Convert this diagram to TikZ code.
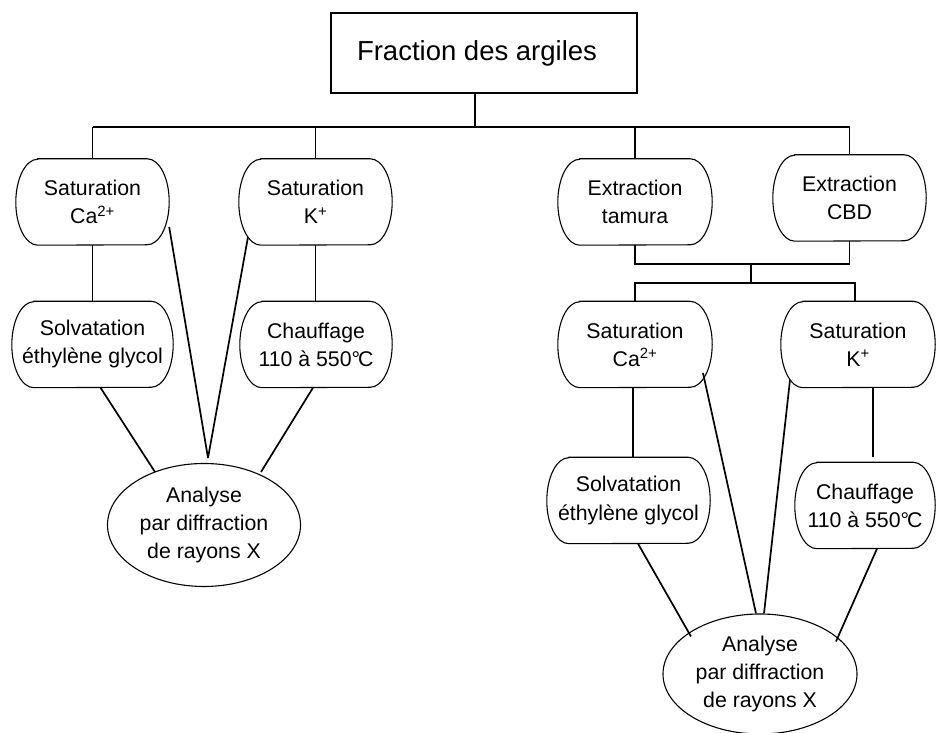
\documentclass[tikz,border=0pt]{standalone}
\usepackage{fontspec}
\setmainfont{Liberation Sans}
\usetikzlibrary{calc,shapes.geometric}
\tikzset{
  conn/.style={line width=1.7pt},
  boxline/.style={line width=1.1pt},
  txt/.style={font=\fontsize{21.3}{28}\selectfont, align=center, inner sep=0pt},
  pill/.style={txt, minimum height=86pt},
  anabox/.style={txt, ellipse, draw, line width=1.1pt},
}
\newcommand\degC{°\kern-0.1em C}
\begin{document}
\begin{tikzpicture}[x=1pt,y=1pt]
\path[use as bounding box, fill=white] (0,0) rectangle (938,733);
% title
\node[draw, line width=1.7pt, minimum width=306pt, minimum height=80pt, inner sep=0pt,
      font=\fontsize{27.5}{33}\selectfont] (title) at (484,680) {Fraction des argiles\kern14pt};
% left branch
\node[pill, minimum width=153pt] (satcaA) at (92.5,531) {Saturation\\Ca\textsuperscript{2+}};
\node[pill, minimum width=153pt] (satkA) at (315.5,531) {Saturation\\K\textsuperscript{+}};
\node[pill, minimum width=161pt] (solvA) at (92.5,388.5) {Solvatation\\éthylène glycol};
\node[pill, minimum width=152pt] (chaufA) at (316,388.5) {Chauffage\\110 à 550\degC};
\node[anabox, minimum width=193pt, minimum height=123pt] (anaA) at (204,208) {Analyse\\par diffraction\\de rayons X};
% right branch
\node[pill, minimum width=154pt] (tam) at (635,531) {Extraction\\tamura};
\node[pill, minimum width=153pt] (cbd) at (849.5,535) {Extraction\\CBD};
\node[pill, minimum width=154pt] (satcaB) at (635,388.5) {Saturation\\Ca\textsuperscript{2+}};
\node[pill, minimum width=154pt] (satkB) at (858,388.5) {Saturation\\K\textsuperscript{+}};
\node[pill, minimum width=163pt] (solvB) at (628.5,232.5) {Solvatation\\éthylène glycol};
\node[pill, minimum width=140pt] (chaufB) at (865,227.5) {Chauffage\\110 à 550\degC};
\node[anabox, minimum width=194pt, minimum height=120pt] (anaB) at (760,59) {Analyse\\par diffraction\\de rayons X};
% pill outlines
\foreach \n in {satcaA,satkA,solvA,chaufA,tam,cbd,satcaB,satkB,solvB,chaufB}{
  \draw[boxline] ($(\n.north west)+(22pt,0)$) -- ($(\n.north east)+(-22pt,0)$)
    arc[start angle=90,end angle=-90,x radius=22pt,y radius=43pt]
    -- ($(\n.south west)+(22pt,0)$)
    arc[start angle=270,end angle=90,x radius=22pt,y radius=43pt] -- cycle;
}
% junction coordinates
\coordinate (busTop) at (0,606);
\coordinate (busMid1) at (0,469);
\coordinate (busMid2) at (0,450);
\coordinate (jx) at (751,0);
\coordinate (meetA) at (208,275);
\coordinate (tx) at ($(title.south)+(-9,0)$);
\coordinate (kx) at ($(satkB.north)+(-3,0)$);
\coordinate (cx) at ($(satcaB.south)+(-2,0)$);
% top bus
\draw[conn] (tx) -- (tx |- busTop);
\draw[conn] (satcaA.north |- busTop) -- (cbd.north |- busTop);
\draw[conn] (satcaA.north) -- (satcaA.north |- busTop);
\draw[conn] (satkA.north) -- (satkA.north |- busTop);
\draw[conn] (tam.north) -- (tam.north |- busTop);
\draw[conn] (cbd.north) -- (cbd.north |- busTop);
% left branch connectors
\draw[conn] (satcaA.south) -- (solvA.north);
\draw[conn] (satkA.south) -- (satkA.south |- chaufA.north);
\draw[conn] ($(solvA.south)+(8,0)$) -- ($(anaA.center)+(-49,53)$);
\draw[conn] ($(chaufA.south)+(-3,0)$) -- ($(anaA.center)+(57,53)$);
\draw[conn] ($(satcaA.east)+(0,-25)$) -- (meetA);
\draw[conn] ($(satkA.center)+(-67.5,-35)$) -- (meetA);
% right bus
\draw[conn] (tam.south) -- (tam.south |- busMid1) -- (cbd.south |- busMid1) -- (cbd.south);
\draw[conn] (jx |- busMid1) -- (jx |- busMid2);
\draw[conn] (satcaB.north) -- (satcaB.north |- busMid2) -- (kx |- busMid2) -- (kx);
% right branch connectors
\draw[conn] (cx) -- (cx |- solvB.north);
\draw[conn] ($(satkB.south)+(15,0)$) -- ($(chaufB.north)+(8,5)$);
\draw[conn] ($(solvB.south)+(9.5,0)$) -- ($(anaB.center)+(-69,37.5)$);
\draw[conn] ($(satcaB.center)+(68,-28.5)$) -- ($(anaB.north)+(-4,0)$);
\draw[conn] ($(satkB.center)+(-68,-35.5)$) -- ($(anaB.north)+(4,0)$);
\draw[conn] ($(chaufB.south)+(12,0)$) -- ($(anaB.center)+(76,32.5)$);
\end{tikzpicture}
\end{document}
